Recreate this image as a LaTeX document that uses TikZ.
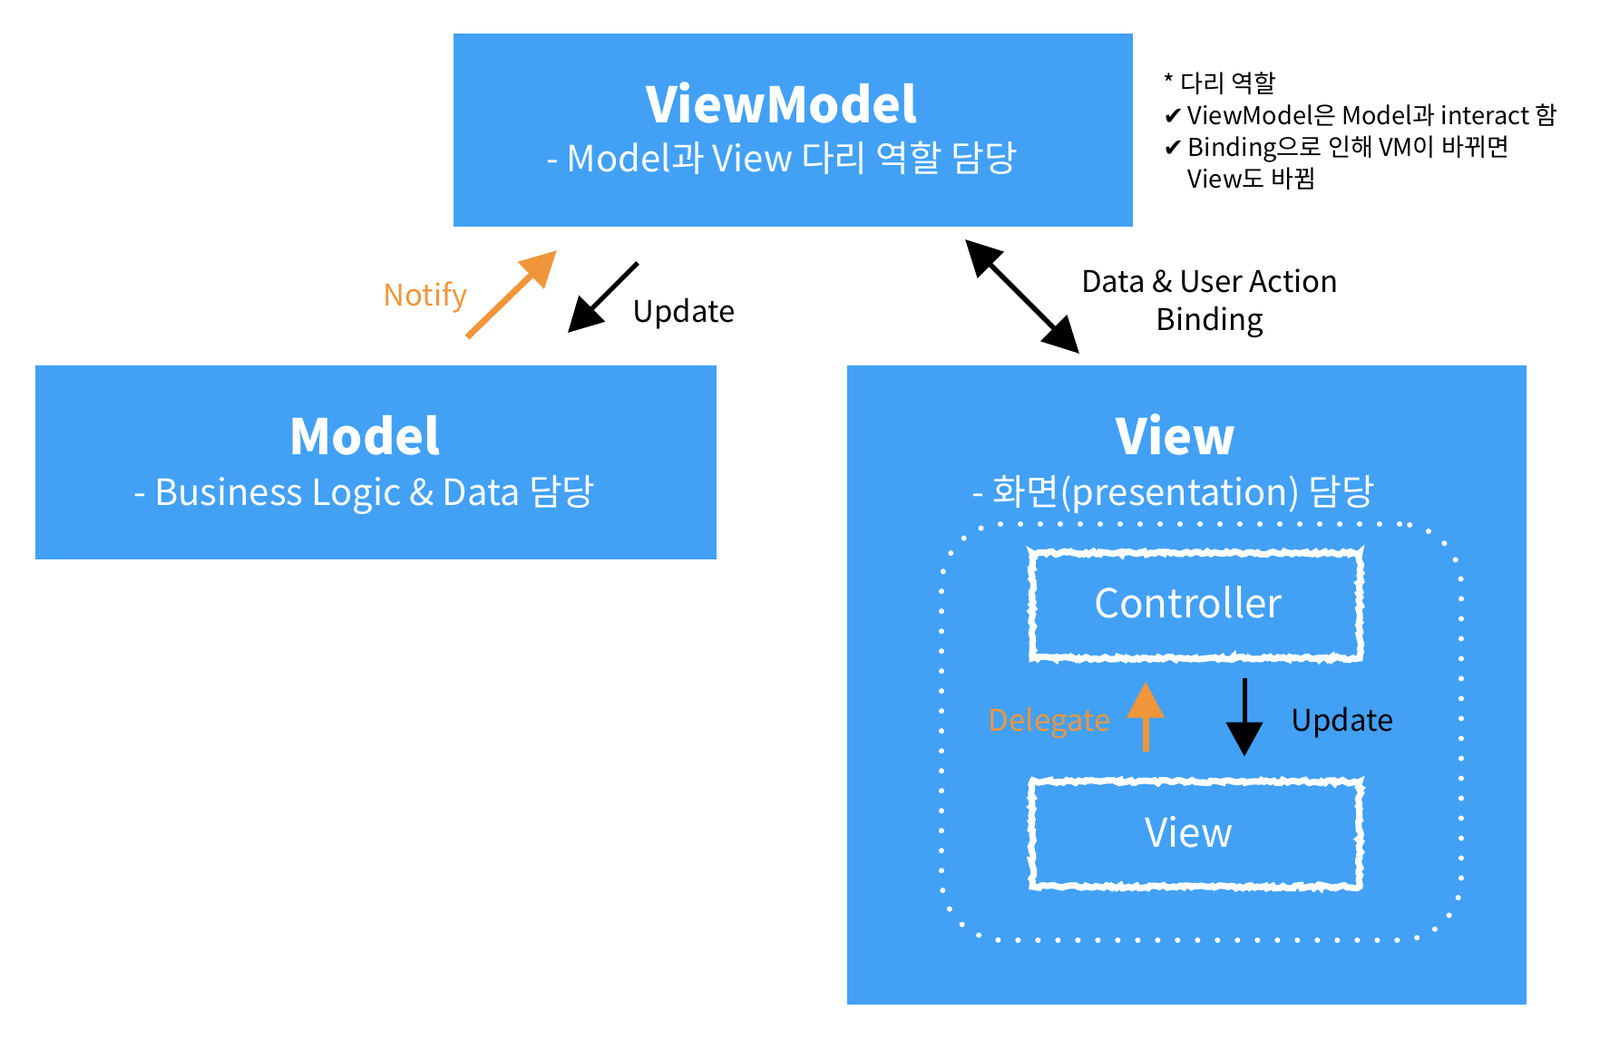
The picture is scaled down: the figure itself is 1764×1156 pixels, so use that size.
\documentclass[tikz,border=0pt]{standalone}
\usepackage{fontspec}
\setmainfont{Noto Sans CJK KR}
\newfontfamily\checkfont{DejaVu Sans}
\usepackage{xcolor}
\definecolor{MVVMblue}{HTML}{42A1F5}
\definecolor{MVVMorange}{HTML}{F0963A}
\usetikzlibrary{arrows.meta, decorations.pathmorphing, positioning}

\tikzset{
  box/.style={fill=MVVMblue, draw=none, inner sep=0pt},
  title/.style={text=white, anchor=base, font=\fontsize{27}{32}\selectfont\bfseries},
  subtitle/.style={text=white, anchor=base, font=\fontsize{20}{24}\selectfont},
  chalkbox/.style={draw=white, line width=3.5pt, decorate,
    decoration={random steps, segment length=1.6pt, amplitude=0.9pt},
    minimum width=180.5pt, minimum height=58pt},
  chalktext/.style={text=white, anchor=base, font=\fontsize{22}{26}\selectfont},
  dotframe/.style={draw=white, line width=3pt, line cap=round,
    dash pattern=on 0pt off 11pt, rounded corners=34pt,
    minimum width=286.5pt, minimum height=229.5pt},
  arrowlabel/.style={anchor=base, font=\fontsize{16.5}{21}\selectfont},
  sketch/.style={line width=3.5pt, -{Triangle[length=20pt, width=20pt]}},
  sketchthin/.style={line width=2.5pt, -{Triangle[length=19pt, width=20pt]}}
}

\begin{document}
\begin{tikzpicture}[x=0.5pt, y=-0.5pt]
  \useasboundingbox (0,0) rectangle (1764,1156);
  % Boxes
  \node[box, minimum width=374.5pt, minimum height=106.5pt] (vm) at (874.5,143.5) {};
  \node[box, minimum width=375.5pt, minimum height=107pt] (model) at (414.5,510) {};
  \node[box, minimum width=374.5pt, minimum height=352.5pt] (view) at (1308.5,755.5) {};
  % Titles
  \node[title] (vmTitle) at (862,135) {ViewModel};
  \node[subtitle] (vmSub) at (862,189) {- Model과 View 다리 역할 담당};
  \node[title] (modelTitle) at (402,501) {Model};
  \node[subtitle] (modelSub) at (402,557) {- Business Logic \& Data 담당};
  \node[title] (viewTitle) at (1297,501) {View};
  \node[subtitle] (viewSub) at (1294,557) {- 화면(presentation) 담당};
  % Note
  \node[anchor=north west, inner sep=0pt, align=left,
        font=\fontsize{13.6}{17.5}\selectfont] (note) at (1282,79)
    {* 다리 역할\\
     {\checkfont ✔}\,ViewModel은 Model과 interact 함\\
     {\checkfont ✔}\,Binding으로 인해 VM이 바뀌면\\
     \hphantom{\checkfont ✔}\,View도 바뀜};
  % Inside the view
  \node[dotframe] (frame) at (1324.5,807.5) {};
  \node[chalkbox] (ctrl) at (1318.5,668) {};
  \node[chalkbox] (innerView) at (1318.5,920) {};
  \node[chalktext] (ctrlText) at (1310,681) {Controller};
  \node[chalktext] (innerViewText) at (1311,934) {View};
  \coordinate (delegX) at (1263,0);
  \coordinate (updX) at (1372,0);
  \draw[sketch, MVVMorange, shorten <=15pt, shorten >=11pt]
    (innerView.north -| delegX) -- (ctrl.south -| delegX);
  \draw[sketchthin, black, shorten <=9pt, shorten >=12pt]
    (ctrl.south -| updX) -- (innerView.north -| updX);
  \node[arrowlabel, MVVMorange] (delegLabel) at (1157,806) {Delegate};
  \node[arrowlabel] (updLabelIn) at (1480,806) {Update};
  % Model <-> ViewModel
  \coordinate (notifyTail) at (515,372);
  \coordinate (notifyTip) at (614,276);
  \coordinate (updTail) at (703,290);
  \coordinate (updTip) at (626,367);
  \draw[sketch, MVVMorange] (notifyTail) -- (notifyTip);
  \draw[sketchthin, black] (updTail) -- (updTip);
  \node[arrowlabel, MVVMorange] (notifyLabel) at (469,337) {Notify};
  \node[arrowlabel] (updLabel) at (754,355) {Update};
  % ViewModel <-> View
  \coordinate (bindTop) at (1064,264);
  \coordinate (bindBottom) at (1190,390);
  \draw[line width=2.8pt, {Triangle[length=20pt, width=20pt]}-{Triangle[length=20pt, width=20pt]}]
    (bindTop) -- (bindBottom);
  \node[arrowlabel, align=center, anchor=north] (bindLabel) at (1334,290)
    {Data \& User Action\\Binding};
\end{tikzpicture}
\end{document}
